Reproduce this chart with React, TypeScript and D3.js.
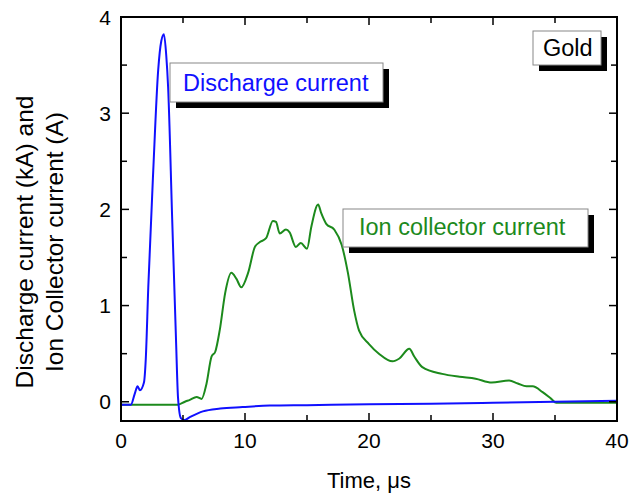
import React, { useEffect, useRef } from "react";
import * as d3 from "d3";

// time in microseconds, discharge current in kA
const dischargeTime = [0, 0.8, 1.1, 1.34, 1.53, 1.85, 2.0, 2.2, 2.6, 3.0, 3.25, 3.46, 3.65, 3.8, 4.13, 4.43, 4.6, 4.83, 5.1, 5.55, 6.6, 8, 9.8, 12, 15, 20, 25, 30, 35, 40];
const dischargeValue = [-0.03, -0.03, 0.08, 0.16, 0.12, 0.2, 0.45, 1.19, 2.4, 3.45, 3.75, 3.82, 3.6, 3.27, 1.89, 0.67, 0.04, -0.17, -0.19, -0.16, -0.1, -0.07, -0.055, -0.04, -0.035, -0.025, -0.02, -0.01, 0.0, 0.01];

// time in microseconds, ion collector current in A
const ionTime = [0, 4.6, 5.15, 5.55, 6.1, 6.5, 6.9, 7.3, 7.6, 7.97, 8.4, 8.9, 9.3, 9.7, 10.25, 10.8, 11.2, 11.7, 12.25, 12.5, 12.8, 13.3, 13.6, 14.1, 14.5, 15.0, 15.35, 15.9, 16.15, 16.55, 17.2, 17.8, 18.3, 18.8, 19.2, 20.0, 20.8, 21.9, 22.45, 23.25, 23.65, 24.3, 25.9, 27.3, 28.6, 29.9, 31.3, 32.0, 32.7, 33.2, 34.0, 34.7, 35.1, 40];
const ionValue = [-0.03, -0.03, 0.0, 0.02, 0.05, 0.03, 0.19, 0.47, 0.52, 0.75, 1.13, 1.34, 1.28, 1.19, 1.34, 1.61, 1.66, 1.7, 1.88, 1.87, 1.75, 1.79, 1.76, 1.61, 1.65, 1.59, 1.82, 2.05, 1.96, 1.85, 1.79, 1.63, 1.34, 0.95, 0.74, 0.6, 0.5, 0.42, 0.45, 0.55, 0.47, 0.36, 0.29, 0.26, 0.24, 0.2, 0.22, 0.19, 0.16, 0.16, 0.1, 0.03, -0.01, -0.01];

const xMajorTicks = [0, 10, 20, 30, 40];
const xMinorTicks = [5, 15, 25, 35];
const yMajorTicks = [0, 1, 2, 3, 4];
const yMinorTicks = [0.5, 1.5, 2.5, 3.5];

const FONT = "Liberation Sans, Arial, Helvetica, sans-serif";

export default function App() {
  const ref = useRef<SVGSVGElement | null>(null);

  useEffect(() => {
    const svg = d3.select(ref.current);
    svg.selectAll("*").remove();

    const left = 121, right = 617, top = 17, bottom = 421;

    const x = d3.scaleLinear().domain([0, 40]).range([left, right]);
    const y = d3.scaleLinear().domain([-0.2, 4]).range([bottom, top]);

    const line = d3.line<[number, number]>()
      .x(d => x(d[0]))
      .y(d => y(d[1]))
      .curve(d3.curveMonotoneX);

    const clip = svg.append("clipPath").attr("id", "plotclip")
    clip.append("rect").attr("x", left).attr("y", top).attr("width", right - left).attr("height", bottom - top);

    const ion: [number, number][] = ionTime.map((t, i) => [t, ionValue[i]]);
    const dis: [number, number][] = dischargeTime.map((t, i) => [t, dischargeValue[i]]);

    svg.append("path")
      .attr("d", line(ion))
      .attr("fill", "none")
      .attr("stroke", "#1c8a1c")
      .attr("stroke-width", 2)
      .attr("clip-path", "url(#plotclip)");

    svg.append("path")
      .attr("d", line(dis))
      .attr("fill", "none")
      .attr("stroke", "#1010ff")
      .attr("stroke-width", 2)
      .attr("clip-path", "url(#plotclip)");

    // frame
    svg.append("rect")
      .attr("x", left).attr("y", top)
      .attr("width", right - left).attr("height", bottom - top)
      .attr("fill", "none").attr("stroke", "#000").attr("stroke-width", 2);

    // inward ticks on all four sides
    const tickGroup = svg.append("g").attr("stroke", "#000").attr("stroke-width", 1.5);
    const xt = [...xMajorTicks.map(v => [v, 8]), ...xMinorTicks.map(v => [v, 6])];
    xt.forEach(([v, len]) => {
      tickGroup.append("line").attr("x1", x(v)).attr("x2", x(v)).attr("y1", bottom).attr("y2", bottom - len);
      tickGroup.append("line").attr("x1", x(v)).attr("x2", x(v)).attr("y1", top).attr("y2", top + len);
    });
    const yt = [...yMajorTicks.map(v => [v, 8]), ...yMinorTicks.map(v => [v, 6])];
    yt.forEach(([v, len]) => {
      tickGroup.append("line").attr("x1", left).attr("x2", left + len).attr("y1", y(v)).attr("y2", y(v));
      tickGroup.append("line").attr("x1", right).attr("x2", right - len).attr("y1", y(v)).attr("y2", y(v));
    });

    // tick labels
    svg.selectAll(".xlab")
      .data(xMajorTicks)
      .join("text")
      .attr("x", d => x(d))
      .attr("y", 448)
      .attr("text-anchor", "middle")
      .style("font-family", FONT)
      .style("font-size", "21px")
      .text(d => d);

    svg.selectAll(".ylab")
      .data(yMajorTicks)
      .join("text")
      .attr("x", 111)
      .attr("y", d => y(d) + 7.5)
      .attr("text-anchor", "end")
      .style("font-family", FONT)
      .style("font-size", "21px")
      .text(d => d);

    // axis titles
    svg.append("text")
      .attr("x", (left + right) / 2)
      .attr("y", 488)
      .attr("text-anchor", "middle")
      .style("font-family", FONT)
      .style("font-size", "22px")
      .text("Time, \u03bcs");

    const yTitle = [["Discharge current (kA) and", 33], ["Ion Collector current (A)", 63]] as const;
    yTitle.forEach(([label, bx]) => {
      svg.append("text")
        .attr("transform", `translate(${bx}, 242) rotate(-90)`)
        .attr("text-anchor", "middle")
        .style("font-family", FONT)
        .style("font-size", "24.5px")
        .text(label);
    });

    // labelled boxes with drop shadows
    const boxes = [
      { x: 170, y: 63, w: 213, h: 39, text: "Discharge current", color: "#1010ff", tx: 183, ty: 91 },
      { x: 343, y: 209, w: 245, h: 38, text: "Ion collector current", color: "#1c8a1c", tx: 359, ty: 235 },
      { x: 533, y: 31, w: 68, h: 34, text: "Gold", color: "#000", tx: 543, ty: 56 },
    ];
    boxes.forEach(b => {
      svg.append("rect")
        .attr("x", b.x + 6).attr("y", b.y + 6)
        .attr("width", b.w).attr("height", b.h)
        .attr("fill", "#000");
      svg.append("rect")
        .attr("x", b.x).attr("y", b.y)
        .attr("width", b.w).attr("height", b.h)
        .attr("fill", "#fff").attr("stroke", "#888").attr("stroke-width", 1);
      svg.append("text")
        .attr("x", b.tx).attr("y", b.ty)
        .style("font-family", FONT)
        .style("font-size", "23.5px")
        .attr("fill", b.color)
        .text(b.text);
    });
  }, []);

  return (
    <svg
      ref={ref}
      width={636}
      height={501}
      style={{ position: "absolute", left: 0, top: 0, background: "#fff" }}
    />
  );
}
